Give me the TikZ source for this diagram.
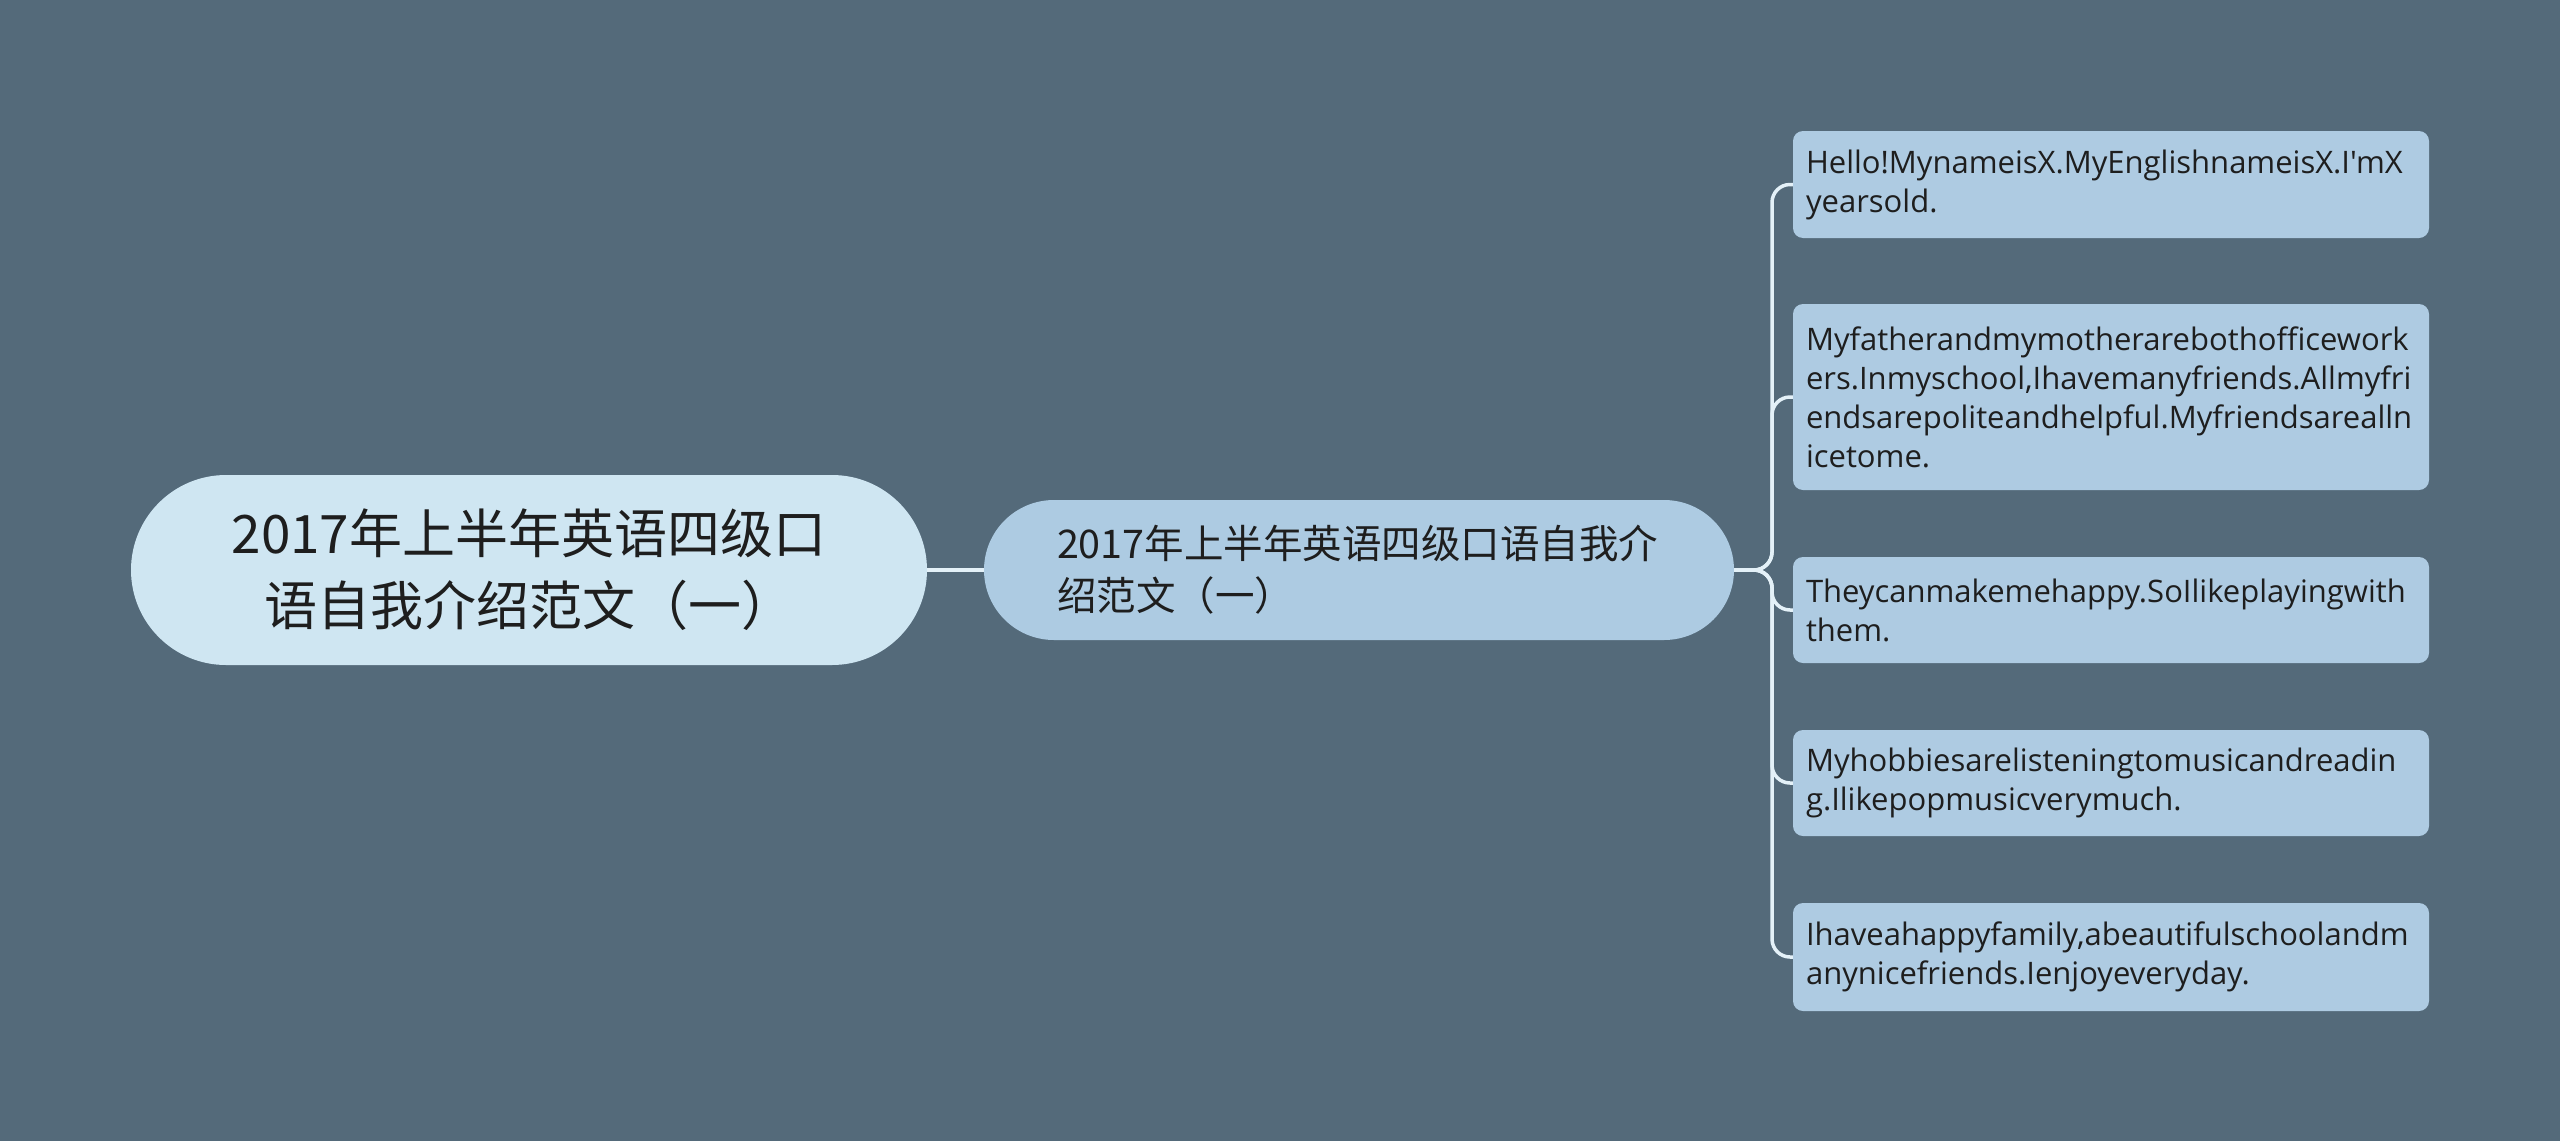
\documentclass[tikz,border=0pt]{standalone}
\usepackage{fontspec}
\setmainfont{Noto Sans CJK SC}
\newfontfamily\leaffont{Open Sans}
\definecolor{bgc}{HTML}{546A7A}
\definecolor{rootc}{HTML}{CFE6F2}
\definecolor{midc}{HTML}{ADCBE2}
\definecolor{leafc}{HTML}{AECBE2}
\definecolor{txtc}{HTML}{1E1E1E}
\definecolor{linec}{HTML}{E4F1F8}
\tikzset{
  rootbox/.style={fill=rootc, text=txtc, rounded corners=95, minimum width=796, minimum height=190, inner sep=0, align=center, font=\fontsize{53}{72}\selectfont},
  midbox/.style={fill=midc, text=txtc, rounded corners=70, minimum width=750, minimum height=140, inner sep=0, text width=604, align=left, font=\fontsize{39.5}{52}\selectfont},
  leafbox/.style={fill=leafc, text=txtc, rounded corners=10, minimum width=636, inner sep=0, text width=610, align=left, font=\leaffont\fontsize{31}{39}\selectfont},
  conn/.style={draw=linec, line width=3.5, rounded corners=18},
}
\begin{document}
\begin{tikzpicture}[x=1pt,y=-1pt]
\fill[bgc] (0,0) rectangle (2560,1141);
\useasboundingbox (0,0) rectangle (2560,1141);

\node[rootbox] (root) at (529,570) {2017年上半年英语四级口\\语自我介绍范文（一）};
\node[midbox] (mid) at (1359,570) {2017年上半年英语四级口语自我介\\绍范文（一）};

\node[leafbox, minimum height=107] (l1) at (2111,184.5) {Hello!MynameisX.MyEnglishnameisX.I'mX\\yearsold.};
\node[leafbox, minimum height=186] (l2) at (2111,397) {Myfatherandmymotherarebothofficework\\ers.Inmyschool,Ihavemanyfriends.Allmyfri\\endsarepoliteandhelpful.Myfriendsarealln\\icetome.};
\node[leafbox, minimum height=106] (l3) at (2111,610) {Theycanmakemehappy.SoIlikeplayingwith\\them.};
\node[leafbox, minimum height=106] (l4) at (2111,783) {Myhobbiesarelisteningtomusicandreadin\\g.Ilikepopmusicverymuch.};
\node[leafbox, minimum height=108] (l5) at (2111,957) {Ihaveahappyfamily,abeautifulschoolandm\\anynicefriends.Ienjoyeveryday.};

\coordinate (S) at (1772,570);
\draw[conn] (root.east) -- (mid.west);
\foreach \l in {l1,l2,l3,l4,l5}{
  \draw[conn] (mid.east) -- (S) -- (S |- \l.west) -- (\l.west);
}
\end{tikzpicture}
\end{document}
